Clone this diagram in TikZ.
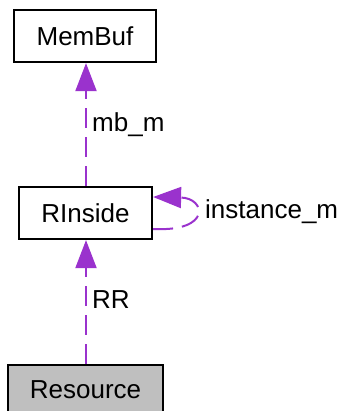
\documentclass[tikz,border=0pt]{standalone}
\usepackage{fontspec}
\setmainfont{Liberation Sans}
\usetikzlibrary{arrows.meta}
\definecolor{edgepurple}{HTML}{9A32CD}
\definecolor{boxgray}{HTML}{BFBFBF}
\begin{document}
\begin{tikzpicture}[x=1pt,y=-1pt,
  classbox/.style={draw=black,line width=2.2pt,minimum width=#1,minimum height=52pt,inner sep=0pt,font=\fontsize{26}{31}\selectfont},
  edgeline/.style={draw=edgepurple,line width=2pt,dash pattern=on 20pt off 9pt,-{Triangle[length=28pt,width=21pt,fill=edgepurple]}},
  elabel/.style={font=\fontsize{26}{31}\selectfont,inner sep=0pt,anchor=west}]
\useasboundingbox (0,0) rectangle (341,411);
\node[classbox=142pt] (membuf) at (85,36) {MemBuf};
\node[classbox=133pt] (rinside) at (85.5,213) {RInside};
\node[classbox=155pt,fill=boxgray,minimum height=50pt] (resource) at (85.5,390) {Resource};
\draw[edgeline] (resource.north -| 86,0) -- (rinside.south -| 86,0);
\draw[edgeline] (rinside.north -| 86,0) -- (membuf.south -| 86,0);
\draw[edgeline] ([yshift=-16pt]rinside.east) .. controls (212,232) and (206,198) .. ([yshift=16pt]rinside.east);
\node[elabel] (lmb) at (92,125) {mb\_m};
\node[elabel] (lrr) at (92,300) {RR};
\node[elabel] (linst) at (205,212) {instance\_m};
\end{tikzpicture}
\end{document}
